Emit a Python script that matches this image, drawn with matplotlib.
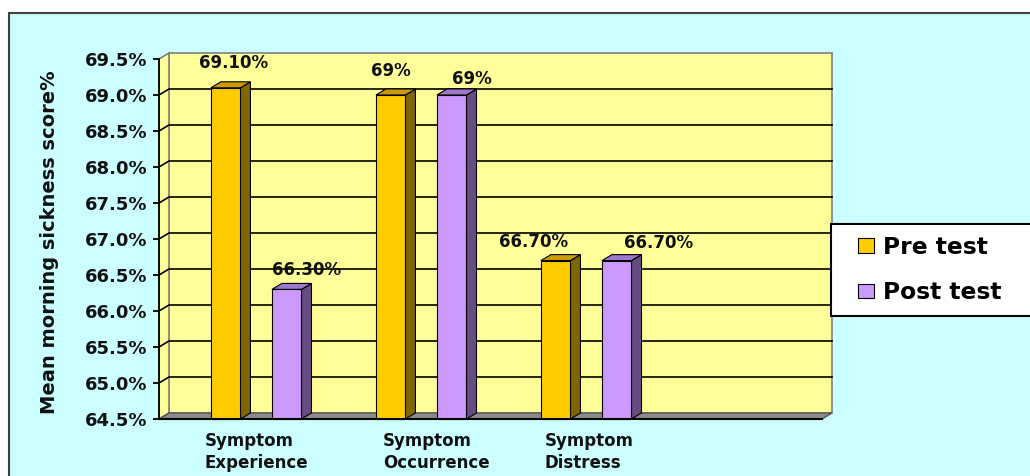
import matplotlib.pyplot as plt
from matplotlib.patches import Polygon, Rectangle
from matplotlib.transforms import ScaledTranslation
import numpy as np

categories = ["Symptom\nExperience", "Symptom\nOccurrence", "Symptom\nDistress"]
pre_test = [69.1, 69.0, 66.7]
post_test = [66.3, 69.0, 66.7]
pre_labels = ["69.10%", "69%", "66.70%"]
post_labels = ["66.30%", "69%", "66.70%"]
yticks = np.arange(64.5, 69.51, 0.5)
ytick_labels = [f"{t:.1f}%" for t in yticks]

# label nudges in pixels (excel 3d places them a bit oddly)
pre_nudge = [(3, 14), (-5, 13), (-27, 8)]
post_nudge = [(15, 8), (15, 5), (37, 7)]
cat_nudge = [0, 15, 3]

W, H = 1030, 476
plt.rcParams['font.family'] = ['DejaVu Sans']
plt.rcParams['font.weight'] = 'bold'
fig = plt.figure(figsize=(W / 100, H / 100), dpi=100)
fig.patch.set_facecolor('white')


def px(x, y, w, h):
  return [x / W, 1 - (y + h) / H, w / W, h / H]


# outer chart area
fig.patches.append(Rectangle((9 / W, -0.1), 1.2, 1 - 13 / H + 0.1, transform=fig.transFigure,
                             facecolor='#CCFFFF', edgecolor='#404040', lw=1.5, zorder=-5))

ax = fig.add_axes(px(159, 59, 663, 360))
x0, x1 = -0.589, 3.429
ymin, ymax = 64.5, 69.5
ax.set_xlim(x0, x1)
ax.set_ylim(ymin, ymax)
ax.patch.set_alpha(0)
for s in ['top', 'right']:
  ax.spines[s].set_visible(False)
ax.spines['left'].set_linewidth(1.3)
ax.spines['bottom'].set_linewidth(1.5)
ax.spines['left'].set_zorder(5)
ax.spines['bottom'].set_zorder(5)

dx = 10 / 165
dy = 6 / 72

# walls and floor
ax.add_patch(Rectangle((x0 + dx, ymin + dy), x1 - x0, ymax - ymin, facecolor='#FFFF99',
                       edgecolor='#808080', lw=1.2, clip_on=False, zorder=0.5))
ax.add_patch(Polygon([(x0, ymin), (x0 + dx, ymin + dy), (x0 + dx, ymax + dy), (x0, ymax)],
                     facecolor='#FFFF99', edgecolor='#808080', lw=1.2, clip_on=False, zorder=0.6))
ax.add_patch(Polygon([(x0, ymin), (x1, ymin), (x1 + dx, ymin + dy), (x0 + dx, ymin + dy)],
                     facecolor='#8C8C8C', edgecolor='#555555', lw=1, clip_on=False, zorder=0.7))
for t in yticks[1:-1]:
  ax.plot([x0, x0 + dx, x1 + dx], [t, t + dy, t + dy], color='black', lw=1.2,
          clip_on=False, zorder=1)

pos = np.arange(len(categories))
width = 0.179
off = 0.185


def bar3d(xs, vals, face, side, top):
  for x, v in zip(xs, vals):
    l, r = x - width / 2, x + width / 2
    ax.add_patch(Polygon([(r, ymin), (r + dx, ymin + dy), (r + dx, v + dy), (r, v)],
                         facecolor=side, edgecolor='black', lw=0.8, clip_on=False, zorder=2))
    ax.add_patch(Polygon([(l, v), (r, v), (r + dx, v + dy), (l + dx, v + dy)],
                         facecolor=top, edgecolor='black', lw=0.8, clip_on=False, zorder=2))
  return ax.bar(xs, np.array(vals) - ymin, width, bottom=ymin, color=face,
                edgecolor='black', lw=0.8, zorder=3, clip_on=False)


pre_bars = bar3d(pos - off, pre_test, '#FFCC00', '#806600', '#CC9900')
post_bars = bar3d(pos + off, post_test, '#CC99FF', '#664C80', '#9E76CC')

for x, v, lbl, nd in zip(pos - off, pre_test, pre_labels, pre_nudge):
  ax.annotate(lbl, (x + dx / 2, v + dy), xytext=nd, textcoords='offset pixels',
              ha='center', va='baseline', fontsize=12, fontweight='bold', color='#111111')
for x, v, lbl, nd in zip(pos + off, post_test, post_labels, post_nudge):
  ax.annotate(lbl, (x + dx / 2, v + dy), xytext=nd, textcoords='offset pixels',
              ha='center', va='baseline', fontsize=12, fontweight='bold', color='#111111')

ax.set_yticks(yticks)
ax.set_yticklabels(ytick_labels)
ax.tick_params(axis='y', direction='out', length=4.5, width=1.3, pad=4, labelsize=13,
               labelcolor='#111111')
ax.set_xticks(pos)
ax.set_xticklabels(categories, fontsize=12, linespacing=1.3, multialignment='left',
                   color='#111111')
ax.tick_params(axis='x', length=0, pad=9)
for lab, n in zip(ax.get_xticklabels(), cat_nudge):
  lab.set_transform(lab.get_transform() + ScaledTranslation(n / 100, 0, fig.dpi_scale_trans))

fig.text(50 / W, 1 - 242 / H, "Mean morning sickness score%", rotation=90, ha='center',
         va='center', fontsize=14, fontweight='bold', color='#111111')

# legend box
fig.patches.append(Rectangle((831 / W, 1 - 316 / H), 0.3, 92 / H, transform=fig.transFigure,
                             facecolor='white', edgecolor='black', lw=1.5, zorder=1))
leg = fig.legend([pre_bars, post_bars], ["Pre test", "Post test"], loc='upper left',
                 bbox_to_anchor=(858 / W, 1 - 236 / H), frameon=False,
                 prop={'size': 16.8, 'weight': 'bold'}, handlelength=0.68, handleheight=0.6,
                 handletextpad=0.4, labelspacing=0.95, borderpad=0, borderaxespad=0)
leg.set_zorder(6)

fig.savefig("out.png", dpi=100)
